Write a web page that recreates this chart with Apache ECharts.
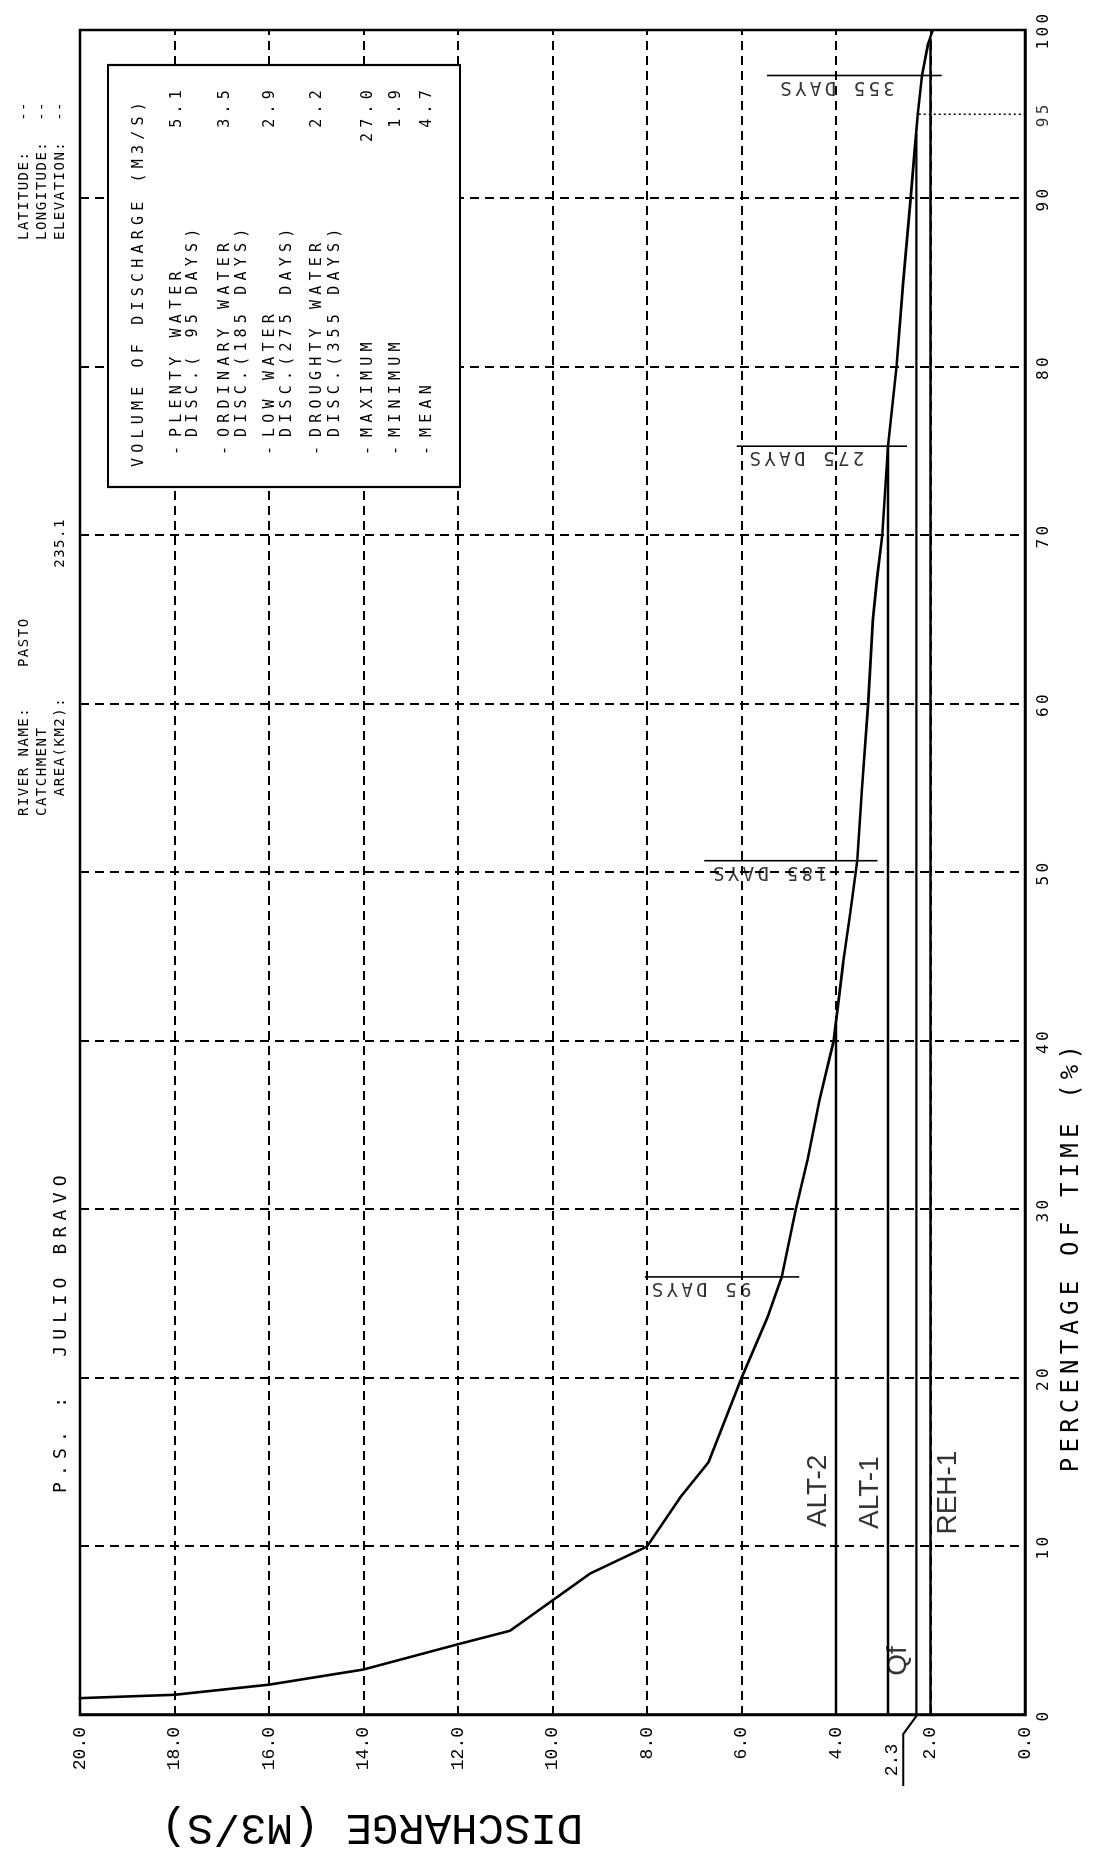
<!DOCTYPE html>
<html><head><meta charset="utf-8">
<script src="https://cdn.jsdelivr.net/npm/echarts@6/dist/echarts.min.js"></script>
<style>
html,body{margin:0;padding:0;background:#fff;overflow:hidden;width:1102px;height:1855px;}
#wrap{position:absolute;left:0;top:0;width:1855px;height:1102px;transform-origin:0 0;transform:translateY(1855px) rotate(-90deg);}
</style></head><body><div id="wrap"></div>
<script>
// ---------- DATA ----------
const percentTime    = [0, 1.0, 1.2, 1.8, 2.7, 4.2, 5.0, 6.8, 8.4, 10.0, 12.9, 15.0, 20.0, 23.6, 26.0, 30.0, 33.0, 36.5, 40.0, 44.6, 47.6, 50.7, 55.0, 60.0, 65.0, 67.5, 70.0, 75.3, 80.0, 85.0, 90.0, 93.0, 95.0, 97.3, 99.2, 100];
const dischargeCurve = [27.0, 20.0, 18.0, 16.0, 14.0, 12.0, 10.9, 10.0, 9.2, 8.0, 7.3, 6.7, 6.0, 5.45, 5.15, 4.85, 4.6, 4.35, 4.05, 3.85, 3.7, 3.55, 3.45, 3.32, 3.22, 3.13, 3.02, 2.9, 2.72, 2.58, 2.42, 2.33, 2.27, 2.18, 2.05, 1.95];

const refNames    = ['ALT-2', 'ALT-1', 'Qf', 'REH-1'];
const refValues   = [4.0, 2.9, 2.3, 2.0];
const refEndPct   = [41.0, 75.3, 93.8, 99.5];
const refLabelAt  = [13.3, 13.2, 3.2, 13.2];
const refLabelPos = ['top', 'top', 'top', 'bottom'];

const dayNames    = ['95 DAYS', '185 DAYS', '275 DAYS', '355 DAYS'];
const dayPct      = [26.0, 50.7, 75.3, 97.3];
const dayLow      = [4.78, 3.12, 2.5, 1.76];
const dayHigh     = [8.05, 6.79, 6.1, 5.46];
const dayLabelTop = [7.97, 6.67, 5.9, 5.25];

const firmPct = 95;
const firmDischarge = 2.25;
const extraTickValue = 2.3;

const legendTitle  = 'VOLUME OF DISCHARGE (M3/S)';
const legendLines  = [['PLENTY WATER', 'DISC.( 95 DAYS)'], ['ORDINARY WATER', 'DISC.(185 DAYS)'], ['LOW WATER', 'DISC.(275 DAYS)'], ['DROUGHTY WATER', 'DISC.(355 DAYS)'], ['MAXIMUM'], ['MINIMUM'], ['MEAN']];
const legendValues = ['5.1', '3.5', '2.9', '2.2', '27.0', '1.9', '4.7'];

const headerTitle = 'P.S. :  JULIO BRAVO';
const headerRiver = ['RIVER NAME:    PASTO', 'CATCHMENT', '  AREA(KM2):             235.1'];
const headerLoc   = ['LATITUDE:   --', 'LONGITUDE:  --', 'ELEVATION:  --'];

// ---------- plotter-style letter spacing for the mono font (px size -> spacing) ----------
const SPACING = {14:1.5, 15:5.2, 16:3.4, 18:6.2, 19:3.3, 24:5.2};
(function(){
  const P = CanvasRenderingContext2D.prototype;
  const d = Object.getOwnPropertyDescriptor(P, 'font');
  if (!d || !('letterSpacing' in P)) return;
  Object.defineProperty(P, 'font', {configurable:true, enumerable:true,
    get(){ return d.get.call(this); },
    set(v){ d.set.call(this, v);
      const m = /(\d+(?:\.\d+)?)px\s+(.*)$/.exec(v || '');
      let ls = '0px';
      if (m && /DejaVu Sans Mono/.test(m[2])) ls = (SPACING[Math.round(parseFloat(m[1]))] || 0) + 'px';
      try { this.letterSpacing = ls; } catch(e) {}
    }});
})();

const MONO = 'DejaVu Sans Mono';
const chart = echarts.init(document.getElementById('wrap'), null, {renderer:'canvas'});

const series = [];
series.push({type:'line', data: percentTime.map((p,i)=>[p, dischargeCurve[i]]), symbol:'none', clip:true,
  lineStyle:{color:'#000', width:2.6}, z:5});
refNames.forEach((n,i)=>{
  series.push({type:'line', data:[[0, refValues[i]], [refEndPct[i], refValues[i]]], symbol:'none',
    lineStyle:{color:'#000', width:2.4}, z:4});
  series.push({type:'scatter', data:[[refLabelAt[i], refValues[i]]], symbolSize:0, silent:true,
    label:{show:true, position:refLabelPos[i], distance:4, formatter:n, color:'#000', fontFamily:'Liberation Sans', fontSize:28}});
});
dayNames.forEach((n,i)=>{
  series.push({type:'line', data:[[dayPct[i], dayLow[i]], [dayPct[i], dayHigh[i]]], symbol:'none',
    lineStyle:{color:'#000', width:1.6}, z:4});
  series.push({type:'scatter', data:[[dayPct[i], dayLabelTop[i]]], symbolSize:0, silent:true,
    label:{show:true, position:'inside', rotate:90, align:'right', verticalAlign:'bottom', formatter:n,
      color:'#000', fontFamily:MONO, fontSize:19}});
});
series.push({type:'line', data:[[firmPct, firmDischarge], [firmPct, 0]], symbol:'none',
  lineStyle:{color:'#000', width:1.5, type:[2,3]}, z:3});
series.push({type:'scatter', data:[[firmPct, 0]], symbolSize:0, silent:true,
  label:{show:true, position:'bottom', distance:9, formatter:String(firmPct), color:'#000', fontFamily:MONO, fontSize:16}});

chart.setOption({
  animation:false,
  backgroundColor:'#fff',
  grid:{left:140, right:30, top:80, bottom:77, show:true, borderColor:'#000', borderWidth:2.5},
  xAxis:{type:'value', min:0, max:100, interval:10,
    axisLine:{show:true, lineStyle:{color:'#000', width:2.5}}, axisTick:{show:false},
    axisLabel:{color:'#000', fontFamily:MONO, fontSize:16, margin:9},
    splitLine:{show:true, lineStyle:{color:'#000', width:2, type:[9,6]}}},
  yAxis:{type:'value', min:0, max:20, interval:2,
    axisLine:{show:true, lineStyle:{color:'#000', width:2.5}}, axisTick:{show:false},
    axisLabel:{color:'#000', fontFamily:'Liberation Mono', fontSize:18, margin:12, formatter:v=>v.toFixed(1)},
    splitLine:{show:true, lineStyle:{color:'#000', width:2, type:[9,6]}}},
  series:series
});

// ---------- graphics (legend box, titles, header, extra 2.3 tick) ----------
const g = [];
const LX = 1368, LY = 108, LW = 422, LH = 352;
g.push({type:'rect', z:100, shape:{x:LX, y:LY, width:LW, height:LH}, style:{fill:'#fff', stroke:'#000', lineWidth:2.2}});
g.push({type:'text', z:101, x:1388, y:139, style:{text:legendTitle, font:'15px ' + MONO, fill:'#000', verticalAlign:'middle'}});
const rowY = [[177,193],[225,242],[270,287],[317,335],[368],[396],[427]];
legendLines.forEach((lines,i)=>{
  g.push({type:'text', z:101, x:1400, y:rowY[i][0], style:{text:'-', font:'15px ' + MONO, fill:'#000', verticalAlign:'middle'}});
  lines.forEach((t,j)=>{
    g.push({type:'text', z:101, x:1418, y:rowY[i][j], style:{text:t, font:'15px ' + MONO, fill:'#000', verticalAlign:'middle'}});
  });
  g.push({type:'text', z:101, x:1770, y:rowY[i][0], style:{text:legendValues[i], font:'15px ' + MONO, fill:'#000', align:'right', verticalAlign:'middle'}});
});
g.push({type:'text', x:599, y:1072, style:{text:'PERCENTAGE OF TIME (%)', font:'24px ' + MONO, fill:'#000', align:'center', verticalAlign:'middle'}});
g.push({type:'text', x:28, y:372, rotation:Math.PI/2, style:{text:'DISCHARGE (M3/S)', font:'44px Liberation Mono', fill:'#000', align:'center', verticalAlign:'middle'}});
g.push({type:'text', x:362, y:61, style:{text:headerTitle, font:'18px ' + MONO, fill:'#000', verticalAlign:'middle'}});
headerRiver.forEach((t,i)=>g.push({type:'text', x:1039, y:24 + i*18, style:{text:t, font:'14px ' + MONO, fill:'#000', verticalAlign:'middle'}}));
headerLoc.forEach((t,i)=>g.push({type:'text', x:1615, y:24 + i*18, style:{text:t, font:'14px ' + MONO, fill:'#000', verticalAlign:'middle'}}));

const p = chart.convertToPixel({gridIndex:0}, [0, extraTickValue]);
g.push({type:'polyline', shape:{points:[[p[0]-1,p[1]],[p[0]-19,p[1]-13],[p[0]-71,p[1]-13]]}, style:{stroke:'#000', lineWidth:2, fill:null}});
g.push({type:'text', x:p[0]-45, y:p[1]-15, style:{text:extraTickValue.toFixed(1), font:'18px Liberation Mono', fill:'#000', align:'center', verticalAlign:'bottom'}});

chart.setOption({graphic:g});
</script></body></html>
